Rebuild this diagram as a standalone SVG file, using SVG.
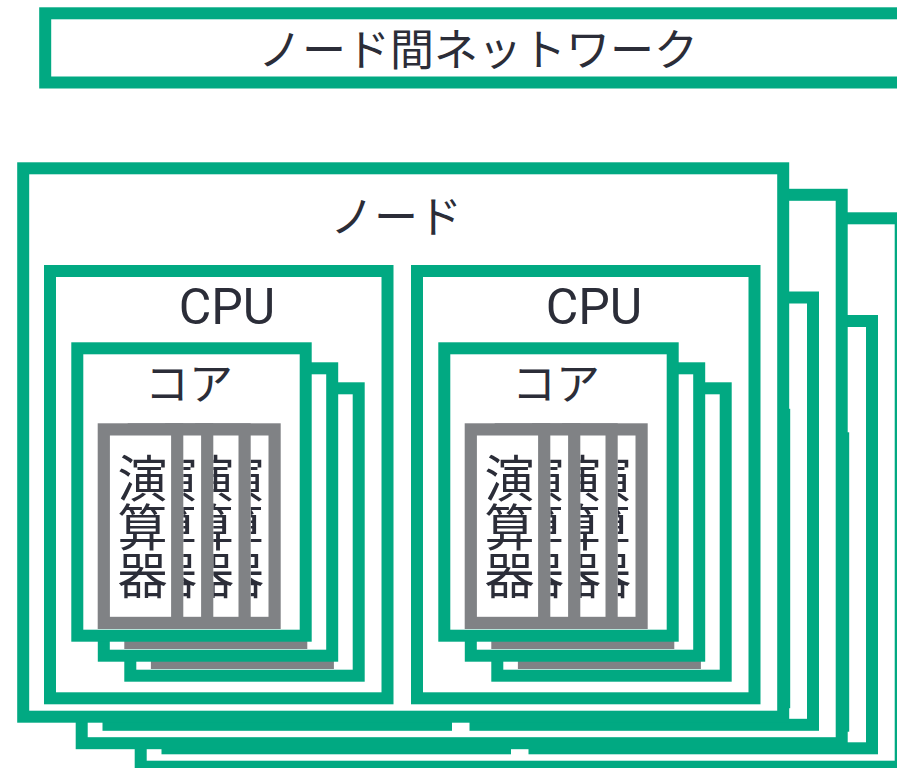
<svg xmlns="http://www.w3.org/2000/svg" width="897" height="768" viewBox="0 0 897 768">
<style>
.gn{fill:#fff;stroke:#01a982;stroke-width:12}
.gy{fill:#fff;stroke:#808285;stroke-width:12.2}
.jp{font-family:"Noto Sans CJK JP","Noto Sans",sans-serif;fill:#2b2d38;text-anchor:middle}
.lat{font-family:Roboto,"Liberation Sans",sans-serif;fill:#2b2d38;text-anchor:middle;font-size:50px}
.alu{font-size:50px}
</style>
<defs>
<clipPath id="c1a2"><rect x="183.3" y="435.5" width="18" height="181"/></clipPath>
<clipPath id="c1a3"><rect x="213.3" y="435.5" width="25.2" height="181"/></clipPath>
<clipPath id="c1a4"><rect x="250.7" y="435.5" width="17.9" height="181"/></clipPath>
<clipPath id="c2a2"><rect x="550.3" y="435.5" width="18" height="181"/></clipPath>
<clipPath id="c2a3"><rect x="580.3" y="435.5" width="25.2" height="181"/></clipPath>
<clipPath id="c2a4"><rect x="617.7" y="435.5" width="17.9" height="181"/></clipPath>
</defs>
<rect width="897" height="768" fill="#fff"/>
<g id="network">
<rect class="gn" x="45.2" y="13.3" width="900" height="69.2"/>
<text class="jp" x="478" y="66" font-size="44">ノード間ネットワーク</text>
</g>
<g id="node-3" transform="translate(117.5,50)">
<rect class="gn" x="23.2" y="168.3" width="760" height="548.4"/>
<g id="node-3-cpu-1">
<rect class="gn" x="50" y="271" width="337.5" height="427.3"/>
<rect class="gn" x="130.3" y="388.3" width="228.4" height="287.4"/>
<rect class="gn" x="103.8" y="368.3" width="228.4" height="287.4"/>
<rect class="gn" x="77.3" y="348.3" width="228.4" height="287.4"/>
</g>
<g id="node-3-cpu-2">
<rect class="gn" x="417" y="271" width="337.5" height="427.3"/>
<rect class="gn" x="497.3" y="388.3" width="228.4" height="287.4"/>
<rect class="gn" x="470.8" y="368.3" width="228.4" height="287.4"/>
<rect class="gn" x="444.3" y="348.3" width="228.4" height="287.4"/>
</g>
</g>
<g id="node-2" transform="translate(58.5,26.5)">
<rect class="gn" x="23.2" y="168.3" width="760" height="548.4"/>
<g id="node-2-cpu-1">
<rect class="gn" x="50" y="271" width="337.5" height="427.3"/>
<rect class="gn" x="130.3" y="388.3" width="228.4" height="287.4"/>
<rect class="gn" x="103.8" y="368.3" width="228.4" height="287.4"/>
<rect class="gn" x="77.3" y="348.3" width="228.4" height="287.4"/>
</g>
<g id="node-2-cpu-2">
<rect class="gn" x="417" y="271" width="337.5" height="427.3"/>
<rect class="gn" x="497.3" y="388.3" width="228.4" height="287.4"/>
<rect class="gn" x="470.8" y="368.3" width="228.4" height="287.4"/>
<rect class="gn" x="444.3" y="348.3" width="228.4" height="287.4"/>
</g>
</g>
<g id="node-1">
<rect class="gn" x="23.2" y="168.3" width="760" height="548.4"/>
<text class="jp" x="396" y="233" font-size="44">ノード</text>
<g id="cpu-1">
<rect class="gn" x="50" y="271" width="337.5" height="427.3"/>
<text class="lat" x="227" y="323.5">CPU</text>
<g id="cpu-1-core-3">
<rect class="gn" x="130.3" y="388.3" width="228.4" height="287.4"/>
<rect class="gy" x="157" y="469.4" width="170.8" height="193.5"/>
</g>
<g id="cpu-1-core-2">
<rect class="gn" x="103.8" y="368.3" width="228.4" height="287.4"/>
<rect class="gy" x="130.4" y="449.4" width="170.8" height="193.5"/>
</g>
<g id="cpu-1-core-1">
<rect class="gn" x="77.3" y="348.3" width="228.4" height="287.4"/>
<text class="jp" x="189" y="400" font-size="44">コア</text>
<g id="cpu-1-alu-4"><rect class="gy" x="201.2" y="429.4" width="73.4" height="193.5"/>
<text class="jp alu" clip-path="url(#c1a4)"><tspan x="239" y="497">演</tspan><tspan x="239" y="545.5">算</tspan><tspan x="239" y="594">器</tspan></text></g>
<g id="cpu-1-alu-3"><rect class="gy" x="171.2" y="429.4" width="73.4" height="193.5"/>
<text class="jp alu" clip-path="url(#c1a3)"><tspan x="209" y="497">演</tspan><tspan x="209" y="545.5">算</tspan><tspan x="209" y="594">器</tspan></text></g>
<g id="cpu-1-alu-2"><rect class="gy" x="133.8" y="429.4" width="73.4" height="193.5"/>
<text class="jp alu" clip-path="url(#c1a2)"><tspan x="172" y="497">演</tspan><tspan x="172" y="545.5">算</tspan><tspan x="172" y="594">器</tspan></text></g>
<g id="cpu-1-alu-1"><rect class="gy" x="103.8" y="429.4" width="73.4" height="193.5"/>
<text class="jp alu"><tspan x="142.5" y="497">演</tspan><tspan x="142.5" y="545.5">算</tspan><tspan x="142.5" y="594">器</tspan></text></g>
</g>
</g>
<g id="cpu-2">
<rect class="gn" x="417" y="271" width="337.5" height="427.3"/>
<text class="lat" x="594" y="323.5">CPU</text>
<g id="cpu-2-core-3">
<rect class="gn" x="497.3" y="388.3" width="228.4" height="287.4"/>
<rect class="gy" x="524" y="469.4" width="170.8" height="193.5"/>
</g>
<g id="cpu-2-core-2">
<rect class="gn" x="470.8" y="368.3" width="228.4" height="287.4"/>
<rect class="gy" x="497.4" y="449.4" width="170.8" height="193.5"/>
</g>
<g id="cpu-2-core-1">
<rect class="gn" x="444.3" y="348.3" width="228.4" height="287.4"/>
<text class="jp" x="556" y="400" font-size="44">コア</text>
<g id="cpu-2-alu-4"><rect class="gy" x="568.2" y="429.4" width="73.4" height="193.5"/>
<text class="jp alu" clip-path="url(#c2a4)"><tspan x="606" y="497">演</tspan><tspan x="606" y="545.5">算</tspan><tspan x="606" y="594">器</tspan></text></g>
<g id="cpu-2-alu-3"><rect class="gy" x="538.2" y="429.4" width="73.4" height="193.5"/>
<text class="jp alu" clip-path="url(#c2a3)"><tspan x="576" y="497">演</tspan><tspan x="576" y="545.5">算</tspan><tspan x="576" y="594">器</tspan></text></g>
<g id="cpu-2-alu-2"><rect class="gy" x="500.8" y="429.4" width="73.4" height="193.5"/>
<text class="jp alu" clip-path="url(#c2a2)"><tspan x="539" y="497">演</tspan><tspan x="539" y="545.5">算</tspan><tspan x="539" y="594">器</tspan></text></g>
<g id="cpu-2-alu-1"><rect class="gy" x="470.8" y="429.4" width="73.4" height="193.5"/>
<text class="jp alu"><tspan x="509.5" y="497">演</tspan><tspan x="509.5" y="545.5">算</tspan><tspan x="509.5" y="594">器</tspan></text></g>
</g>
</g>
</g>
<g id="connectors"/>
</svg>
